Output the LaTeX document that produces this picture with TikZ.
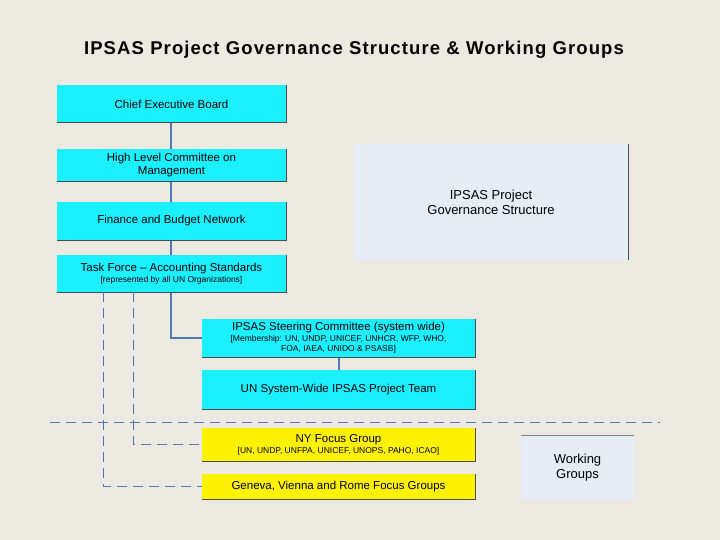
\documentclass[tikz,border=0pt]{standalone}
\usepackage{fontspec}
\setmainfont{Liberation Sans}
\definecolor{bg}{HTML}{ECE9E0}
\definecolor{cyn}{HTML}{1AF0FF}
\definecolor{pl}{HTML}{E6ECF5}
\definecolor{ln}{HTML}{5078B4}
\begin{document}
\begin{tikzpicture}[x=1pt,y=-1pt,
  cy/.style={fill=cyn, draw=none, inner sep=0},
  ye/.style={fill=yellow, draw=none, inner sep=0},
  pale/.style={fill=pl, draw=none, font=\fontsize{13}{15}\selectfont, align=center, inner sep=0},
  lab/.style={font=\fontsize{11.5}{13}\selectfont, align=center},
  conn/.style={draw=ln, line width=2pt},
  dconn/.style={draw=ln, dash pattern=on 10pt off 6pt, line width=0.9pt}]
\fill[bg] (0,0) rectangle (720,540);
\useasboundingbox (0,0) rectangle (720,540);
\node[font=\bfseries\fontsize{18.5}{22}\selectfont] (title) at (354,50) {\addfontfeatures{LetterSpace=6}IPSAS Project Governance Structure \& Working Groups};
\def\bx#1#2#3#4#5#6{%
 \node[#6, minimum width=#3-#1, minimum height=#4-#2] (#5) at ({(#1+#3)/2},{(#2+#4)/2}) {};
 \draw[black!70, line width=1pt] (#3,#2) -- (#3,#4) -- (#1,#4);}
\draw[conn] (171,100) -- (171,260);
\draw[conn] (171,292) |- (210,338);
\draw[conn] (339,350) -- (339,375);
\bx{57}{85}{286}{123}{ceb}{cy}
\bx{57}{149}{286}{182}{hlcm}{cy}
\bx{57}{202}{286}{240}{fbn}{cy}
\bx{57}{255}{286}{292}{tf}{cy}
\bx{202}{319}{475}{357}{sc}{cy}
\bx{202}{370}{475}{409}{team}{cy}
\bx{202}{428}{475}{461}{ny}{ye}
\bx{202}{474}{475}{499}{gen}{ye}
\node[pale, minimum width=274, minimum height=116] (gov) at (491,202) {IPSAS Project\\Governance Structure};
\draw[black!70, line width=1pt] (628,144) -- (628,260);
\node[pale, minimum width=113, minimum height=65] (wg) at (577.5,467.5) {Working\\Groups};
\draw[black!50, line width=0.8pt] (521,435) -- (634,435);
\node at (ceb) [lab] {Chief Executive Board};
\node at (hlcm) [lab] {High Level Committee on\\Management};
\node at (fbn) [lab] {Finance and Budget Network};
\node at (tf) [lab] {Task Force -- Accounting Standards\\[-2pt]{\fontsize{8.5}{10}\selectfont [represented by all UN Organizations]}};
\node at (sc) [lab] {IPSAS Steering Committee (system wide)\\[-2pt]{\fontsize{8.5}{10}\selectfont [Membership: UN, UNDP, UNICEF, UNHCR, WFP, WHO,}\\[-3pt]{\fontsize{8.5}{10}\selectfont FOA, IAEA, UNIDO \& PSASB]}};
\node at (team) [lab] {UN System-Wide IPSAS Project Team};
\node at (ny) [lab] {NY Focus Group\\[-2pt]{\fontsize{8.5}{10}\selectfont [UN, UNDP, UNFPA, UNICEF, UNOPS, PAHO, ICAO]}};
\node at (gen) [lab] {Geneva, Vienna and Rome Focus Groups};
\draw[dconn] (103,292) |- (gen.west);
\draw[dconn] (133,292) |- (ny.west);
\draw[dconn] (50,422) -- (660,422);
\end{tikzpicture}
\end{document}
